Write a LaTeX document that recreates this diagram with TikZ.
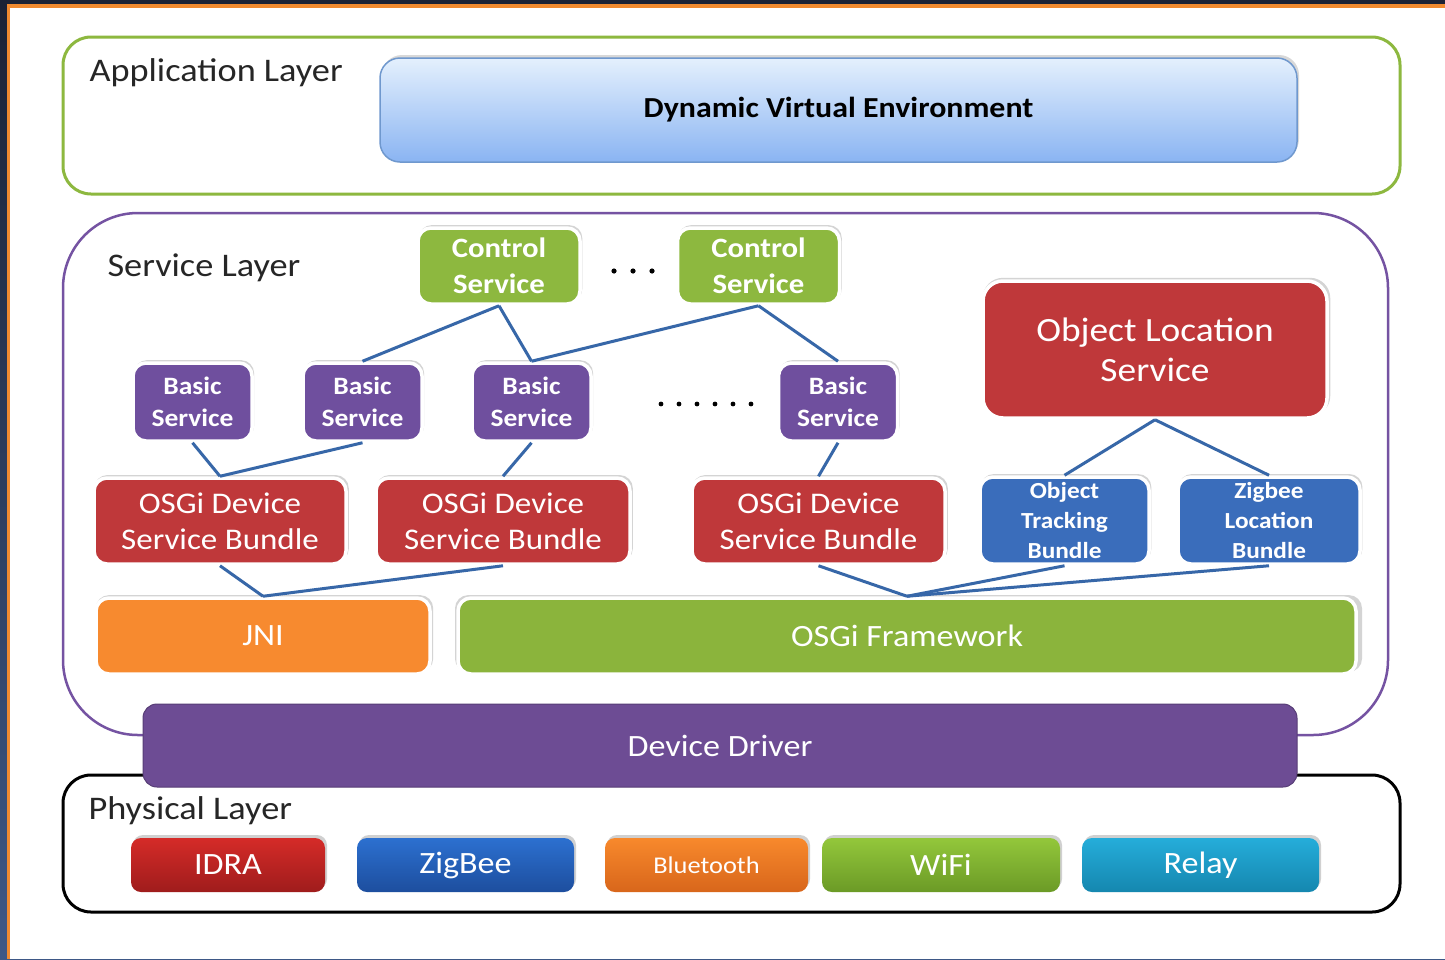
\documentclass[tikz,border=0pt]{standalone}
\usepackage{fontspec}
\setmainfont{Carlito}[FakeStretch=1.1]
\usetikzlibrary{shadows}
\definecolor{frameA}{HTML}{1B2235}
\definecolor{frameB}{HTML}{3E5886}
\definecolor{frameO}{HTML}{F08A30}
\definecolor{appgreen}{HTML}{8DB83F}
\definecolor{dveTop}{HTML}{E4F0FD}
\definecolor{dveBot}{HTML}{8AB4F2}
\definecolor{dveLine}{HTML}{6F98CE}
\definecolor{svcpurple}{HTML}{7553A2}
\definecolor{csgreen}{HTML}{8DB83F}
\definecolor{bspurple}{HTML}{6F4F9E}
\definecolor{osgired}{HTML}{BF383A}
\definecolor{bundleblue}{HTML}{3A6DBB}
\definecolor{jniorange}{HTML}{F78A2F}
\definecolor{fwgreen}{HTML}{8BB43C}
\definecolor{ddpurple}{HTML}{6D4C94}
\definecolor{connblue}{HTML}{3767A8}
\definecolor{idraA}{HTML}{D52B28}\definecolor{idraB}{HTML}{9F1C1C}
\definecolor{zbA}{HTML}{2C70D0}\definecolor{zbB}{HTML}{1D4E9E}
\definecolor{btA}{HTML}{F8892C}\definecolor{btB}{HTML}{D8661B}
\definecolor{wfA}{HTML}{93C73B}\definecolor{wfB}{HTML}{6B9A26}
\definecolor{rlA}{HTML}{25ADDA}\definecolor{rlB}{HTML}{1587AF}
\tikzset{
  layerbox/.style={rounded corners=28, line width=3, minimum width=#1},
  box/.style={rounded corners=13, draw=white, line width=3.5, text=white, align=center,
     general shadow={shadow xshift=1.5, shadow yshift=-2.5, opacity=.3, fill=black!55, shadow scale=1.01}},
  physbtn/.style={rounded corners=10, minimum height=54, text=white, align=center,
     general shadow={shadow xshift=2, shadow yshift=-3, opacity=.3, fill=black!60},
     font=\fontsize{31}{36}\selectfont},
  conn/.style={draw=connblue, line width=3},
  lbl/.style={font=\fontsize{33}{38}\selectfont, text=black!85},
}
\begin{document}
\begin{tikzpicture}[x=1pt,y=-1pt]
\useasboundingbox (0,0) rectangle (1445,959);
% frame
\shade[top color=frameA, bottom color=frameB] (0,0) rectangle (1445,959);
\fill[frameO] (7,4) rectangle (1445,959);
\fill[white] (10,8) rectangle (1445,959);

% application layer
\node[layerbox=1337, draw=appgreen, minimum height=157] (app) at (731.5,115.5) {};
\node[lbl, anchor=west] (applbl) at (86,73) {Application Layer};
\node[rounded corners=20, minimum width=917, minimum height=104, top color=dveTop, bottom color=dveBot,
      draw=dveLine, line width=1.5, font=\bfseries\fontsize{29}{32}\selectfont,
      general shadow={shadow xshift=2, shadow yshift=-3, opacity=.25, fill=black!60}] (dve) at (838.5,110) {Dynamic Virtual Environment};

% service layer
\node[rounded corners=75, draw=svcpurple, line width=2.5, minimum width=1325, minimum height=522] (svc) at (725.5,474) {};
\node[lbl, anchor=west] (svclbl) at (104,268) {Service Layer};

\tikzset{cs/.style={box, fill=csgreen, minimum width=162, minimum height=76, font=\bfseries\fontsize{28}{36}\selectfont},
         bs/.style={box, fill=bspurple, minimum width=119, minimum height=78, font=\bfseries\fontsize{25}{32}\selectfont},
         ob/.style={box, fill=osgired, minimum height=86, font=\fontsize{30}{36}\selectfont},
         bb/.style={box, fill=bundleblue, minimum height=87, font=\bfseries\fontsize{23}{30}\selectfont}}
\node[cs] (cs1) at (499,266) {Control\\Service};
\node[cs] (cs2) at (758.5,266) {Control\\Service};
\foreach \x in {614,633,652} \fill (\x,271) circle (2.6);

\node[bs] (bs1) at (192.5,402) {Basic\\Service};
\node[bs] (bs2) at (362.5,402) {Basic\\Service};
\node[bs] (bs3) at (531.5,402) {Basic\\Service};
\node[bs] (bs4) at (838,402) {Basic\\Service};
\foreach \x in {661,679,697,715,733,751} \fill (\x,404) circle (2.4);

\node[box, rounded corners=20, fill=osgired, minimum width=344, minimum height=137, font=\fontsize{34}{40}\selectfont] (ols) at (1155,349.5) {Object Location\\Service};

\node[ob, minimum width=252] (osg1) at (220,521) {OSGi Device\\Service Bundle};
\node[ob, minimum width=254] (osg2) at (503,521) {OSGi Device\\Service Bundle};
\node[ob, minimum width=253] (osg3) at (818.5,521) {OSGi Device\\Service Bundle};
\node[bb, minimum width=169] (otb) at (1064.5,520.5) {Object\\Tracking\\Bundle};
\node[bb, minimum width=182] (zlb) at (1269,520.5) {Zigbee\\Location\\Bundle};

\node[box, fill=jniorange, minimum width=334, minimum height=76, font=\fontsize{31}{36}\selectfont] (jni) at (263,636) {JNI};
\node[box, fill=fwgreen, minimum width=898, minimum height=76, font=\fontsize{31}{36}\selectfont] (fw) at (907,636) {OSGi Framework};

% connectors
\draw[conn] (cs1.south) -- (bs2.north);
\draw[conn] (cs1.south) -- (bs3.north);
\draw[conn] (cs2.south) -- (bs3.north);
\draw[conn] (cs2.south) -- (bs4.north);
\draw[conn] (bs1.south) -- (osg1.north);
\draw[conn] (bs2.south) -- (osg1.north);
\draw[conn] (bs3.south) -- (osg2.north);
\draw[conn] (bs4.south) -- (osg3.north);
\draw[conn] (ols.south) -- (otb.north);
\draw[conn] (ols.south) -- (zlb.north);
\draw[conn] (osg1.south) -- (jni.north);
\draw[conn] (osg2.south) -- (jni.north);
\draw[conn] (osg3.south) -- (fw.north);
\draw[conn] (otb.south) -- (fw.north);
\draw[conn] (zlb.south) -- (fw.north);

% physical layer
\node[layerbox=1337, draw=black, minimum height=137] (phys) at (731.5,843.5) {};
\node[rounded corners=14, fill=ddpurple, draw=ddpurple!80!black, line width=1, minimum width=1154, minimum height=83,
      text=white, font=\fontsize{31}{36}\selectfont] (dd) at (720,745.5) {Device Driver};
\node[lbl, anchor=west] (physlbl) at (85,811) {Physical Layer};

\node[physbtn, top color=idraA, bottom color=idraB, minimum width=194] (idra) at (228,865) {IDRA};
\node[physbtn, top color=zbA, bottom color=zbB, minimum width=217] (zigbee) at (465.5,865) {ZigBee};
\node[physbtn, top color=btA, bottom color=btB, minimum width=203, font=\fontsize{24}{28}\selectfont] (bt) at (706.5,865) {Bluetooth};
\node[physbtn, top color=wfA, bottom color=wfB, minimum width=238] (wifi) at (941,865) {WiFi};
\node[physbtn, top color=rlA, bottom color=rlB, minimum width=237] (relay) at (1200.5,865) {Relay};
\end{tikzpicture}
\end{document}
